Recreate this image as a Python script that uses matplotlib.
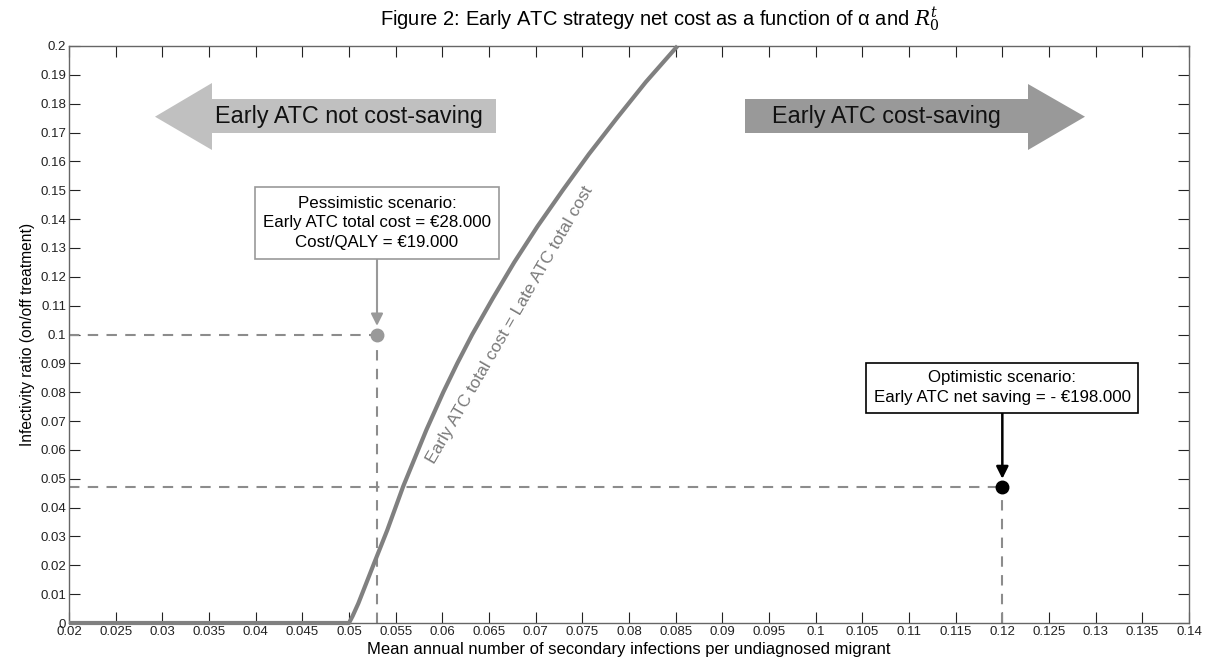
import matplotlib
matplotlib.use("Agg")
import matplotlib.pyplot as plt
from matplotlib.patches import Polygon
import numpy as np

plt.rcParams['font.family'] = ['Liberation Sans', 'DejaVu Sans']
plt.rcParams['mathtext.fontset'] = 'dejavuserif'

# Break-even curve: Early ATC total cost = Late ATC total cost
curve_x = [0.020, 0.030, 0.040, 0.0500, 0.0504, 0.0510, 0.0527, 0.0541, 0.0558, 0.0583,
           0.0601, 0.0616, 0.0632, 0.0654, 0.0677, 0.0702, 0.0729, 0.0757, 0.0787,
           0.0818, 0.0852]
curve_y = [0.000, 0.000, 0.000, 0.0000, 0.0025, 0.0068, 0.0208, 0.0322, 0.0473, 0.0670,
           0.0800, 0.0900, 0.1000, 0.1125, 0.1250, 0.1375, 0.1500, 0.1625, 0.1750,
           0.1875, 0.2000]

pess_x, pess_y = 0.053, 0.1
opt_x, opt_y = 0.12, 0.047

x_ticks = [0.02, 0.025, 0.03, 0.035, 0.04, 0.045, 0.05, 0.055, 0.06, 0.065, 0.07,
           0.075, 0.08, 0.085, 0.09, 0.095, 0.1, 0.105, 0.11, 0.115, 0.12, 0.125,
           0.13, 0.135, 0.14]
y_ticks = [0, 0.01, 0.02, 0.03, 0.04, 0.05, 0.06, 0.07, 0.08, 0.09, 0.1, 0.11, 0.12,
           0.13, 0.14, 0.15, 0.16, 0.17, 0.18, 0.19, 0.2]

fig = plt.figure(figsize=(12.08, 6.64), dpi=100)
ax = fig.add_axes([69/1208, 41/664, 1120/1208, 577/664])
ax.set_xlim(0.02, 0.14)
ax.set_ylim(0, 0.2)
ax.set_xticks(x_ticks)
ax.set_xticklabels([f"{v:g}" for v in x_ticks])
ax.set_yticks(y_ticks)
ax.set_yticklabels([f"{v:g}" for v in y_ticks])
ax.tick_params(direction='in', length=8, width=0.8, top=True, right=True,
               labelsize=9.5, colors='#222222', pad=2)
for s in ax.spines.values():
    s.set_color('#666666')
    s.set_linewidth(1.0)

# dashed guide lines
dash = dict(color='#8c8c8c', lw=1.5, ls=(0, (5, 4)), zorder=2)
ax.plot([0.02, pess_x], [pess_y, pess_y], **dash)
ax.plot([pess_x, pess_x], [0, pess_y], **dash)
ax.plot([0.02, opt_x], [opt_y, opt_y], **dash)
ax.plot([opt_x, opt_x], [0, opt_y], **dash)

# curve
ax.plot(curve_x, curve_y, color='#808080', lw=3.0, solid_capstyle='butt',
        solid_joinstyle='round', zorder=3, clip_on=False)

# scenario points
ax.plot([pess_x], [pess_y], 'o', color='#999999', ms=9, zorder=4)
ax.plot([opt_x], [opt_y], 'o', color='black', ms=9, zorder=4)

# curve label
ax.text(0.394, 0.516, "Early ATC total cost = Late ATC total cost", transform=ax.transAxes,
        rotation=60, ha='center', va='center', fontsize=12.5, color='#7a7a7a')

# scenario boxes
ax.annotate("Pessimistic scenario:\nEarly ATC total cost = €28.000\nCost/QALY = €19.000",
            xy=(pess_x, pess_y + 0.003), xytext=(pess_x, 0.1387),
            ha='center', va='center', fontsize=12.2, linespacing=1.4,
            bbox=dict(boxstyle='square,pad=0.5', fc='white', ec='#999999', lw=1.2),
            arrowprops=dict(arrowstyle='-|>', color='#999999', lw=1.5,
                            mutation_scale=18, shrinkA=0, shrinkB=0), zorder=5)
ax.annotate("Optimistic scenario:\nEarly ATC net saving = - €198.000",
            xy=(opt_x, opt_y + 0.003), xytext=(opt_x, 0.0816),
            ha='center', va='center', fontsize=12.2, linespacing=1.4,
            bbox=dict(boxstyle='square,pad=0.45', fc='white', ec='black', lw=1.2),
            arrowprops=dict(arrowstyle='-|>', color='black', lw=1.8,
                            mutation_scale=18, shrinkA=0, shrinkB=0), zorder=5)

# region arrows (axes fraction coordinates)
def fx(px):
    return (px - 69) / 1120
def fy(py):
    return (623 - py) / 577

left_arrow = [(fx(155), fy(116.7)), (fx(212), fy(83)), (fx(212), fy(99)), (fx(496), fy(99)),
              (fx(496), fy(133)), (fx(212), fy(133)), (fx(212), fy(150))]
right_arrow = [(fx(1085), fy(116.7)), (fx(1028), fy(84)), (fx(1028), fy(99)), (fx(745), fy(99)),
               (fx(745), fy(133)), (fx(1028), fy(133)), (fx(1028), fy(150))]
ax.add_patch(Polygon(left_arrow, closed=True, transform=ax.transAxes, fc='#c0c0c0',
                     ec='none', zorder=1))
ax.add_patch(Polygon(right_arrow, closed=True, transform=ax.transAxes, fc='#999999',
                     ec='none', zorder=1))
ax.text(fx(349), fy(116), "Early ATC not cost-saving", transform=ax.transAxes,
        ha='center', va='center', fontsize=16.8, color='#111111', zorder=2)
ax.text(fx(886), fy(116), "Early ATC cost-saving", transform=ax.transAxes,
        ha='center', va='center', fontsize=16.8, color='#111111', zorder=2)

ax.set_xlabel("Mean annual number of secondary infections per undiagnosed migrant",
              fontsize=12, labelpad=3)
ax.set_ylabel("Infectivity ratio (on/off treatment)", fontsize=11.2, labelpad=4)
fig.text(660/1208, 1 - 19/664,
         r"Figure 2: Early ATC strategy net cost as a function of α and $R_0^t$",
         fontsize=14.5, ha='center', va='center')

fig.savefig("out.png", dpi=100)
